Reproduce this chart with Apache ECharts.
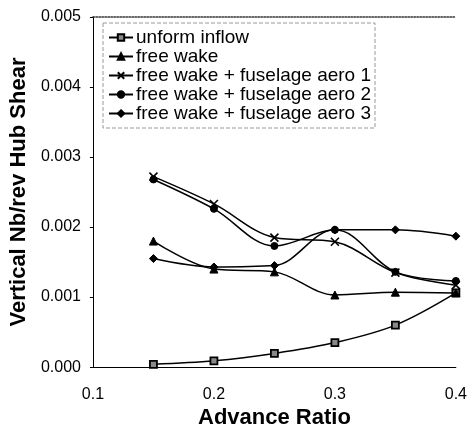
<!DOCTYPE html>
<html>
<head>
<meta charset="utf-8">
<script src="https://cdn.jsdelivr.net/npm/echarts@6/dist/echarts.min.js"></script>
<style>
html,body{margin:0;padding:0;background:#fff;}
#chart{width:470px;height:434px;}
</style>
</head>
<body>
<div id="chart"></div>
<script>
var advanceRatio = [0.15, 0.2, 0.25, 0.3, 0.35, 0.4];
var seriesNames = ['unform inflow', 'free wake', 'free wake + fuselage aero 1', 'free wake + fuselage aero 2', 'free wake + fuselage aero 3'];
var uniformInflow = [0.00004, 0.00009, 0.000195, 0.00035, 0.0006, 0.00106];
var freeWake = [0.0018, 0.0014, 0.00136, 0.00103, 0.00107, 0.00106];
var fuselageAero1 = [0.00272, 0.00233, 0.00185, 0.00179, 0.00135, 0.00117];
var fuselageAero2 = [0.00268, 0.00226, 0.00173, 0.00196, 0.00136, 0.00123];
var fuselageAero3 = [0.00155, 0.00143, 0.00145, 0.00196, 0.00196, 0.00187];
var yTicks = ['0.000', '0.001', '0.002', '0.003', '0.004', '0.005'];
var xTicks = ['0.1', '0.2', '0.3', '0.4'];

var FONT = 'Liberation Sans, Arial, Helvetica, sans-serif';
var valuesList = [uniformInflow, freeWake, fuselageAero1, fuselageAero2, fuselageAero3];
var symbols = ['rect', 'triangle', 'path://M0,0L10,10M10,0L0,10', 'circle', 'diamond'];
var symbolSizes = [7, 8, 8, 7, 8];

function pairs(vals) {
  return advanceRatio.map(function (x, i) { return [x, vals[i]]; });
}

var series = valuesList.map(function (vals, k) {
  var isX = k === 2;
  return {
    name: seriesNames[k],
    type: 'line',
    data: pairs(vals),
    smooth: 0.35,
    symbol: symbols[k],
    symbolSize: symbolSizes[k],
    showAllSymbol: true,
    lineStyle: { color: '#000', width: 1.5, type: 'solid' },
    itemStyle: isX ? { color: 'rgba(0,0,0,0)', borderColor: '#000', borderWidth: 1.6 }
                   : (k === 0 ? { color: '#888', borderColor: '#000', borderWidth: 1.8 }
                              : { color: '#000', borderColor: '#000', borderWidth: 1 }),
    emphasis: { disabled: true },
    z: 3 + k
  };
});

var chart = echarts.init(document.getElementById('chart'));
chart.setOption({
  animation: false,
  backgroundColor: '#fff',
  grid: { left: 91, right: 12, top: 17, bottom: 66, containLabel: false },
  legend: {
    orient: 'vertical',
    left: 103,
    top: 23,
    padding: [5, 4, 5, 5],
    itemGap: 0,
    itemWidth: 24,
    itemHeight: 8,
    borderColor: '#999',
    borderWidth: 1,
    borderType: 'dashed',
    data: seriesNames,
    textStyle: { fontFamily: FONT, fontSize: 19, color: '#000', lineHeight: 18, padding: [0, 0, 0, -2] },
    selectedMode: false
  },
  xAxis: [{
    type: 'value',
    min: 0.1, max: 0.4, interval: 0.1,
    position: 'bottom',
    name: 'Advance Ratio',
    nameLocation: 'middle',
    nameGap: 38,
    nameTextStyle: { fontFamily: FONT, fontSize: 22, fontWeight: 'bold', color: '#000' },
    axisLine: { show: true, onZero: false, lineStyle: { color: '#000', width: 1 } },
    axisTick: { show: false },
    splitLine: { show: false },
    axisLabel: {
      margin: 19, fontFamily: FONT, fontSize: 16, color: '#000',
      formatter: function (v) { var i = Math.round((v - 0.1) / 0.1); return xTicks[i] !== undefined ? xTicks[i] : ''; }
    }
  }, {
    type: 'value',
    min: 0.1, max: 0.4,
    position: 'top',
    axisLine: { show: true, onZero: false, lineStyle: { color: '#333', width: 1.5, type: 'dotted' } },
    axisTick: { show: false },
    axisLabel: { show: false },
    splitLine: { show: false }
  }],
  yAxis: {
    type: 'value',
    min: 0, max: 0.005, interval: 0.001,
    name: 'Vertical Nb/rev Hub Shear',
    nameLocation: 'middle',
    nameGap: 55,
    nameTextStyle: { fontFamily: FONT, fontSize: 22, fontWeight: 'bold', color: '#000' },
    axisLine: { show: true, onZero: false, lineStyle: { color: '#000', width: 1 } },
    axisTick: { show: true, length: 3, lineStyle: { color: '#000' } },
    splitLine: { show: false },
    axisLabel: {
      margin: 12, fontFamily: FONT, fontSize: 16, color: '#000',
      formatter: function (v) { return yTicks[Math.round(v / 0.001)]; }
    }
  },
  series: series
});
</script>
</body>
</html>
